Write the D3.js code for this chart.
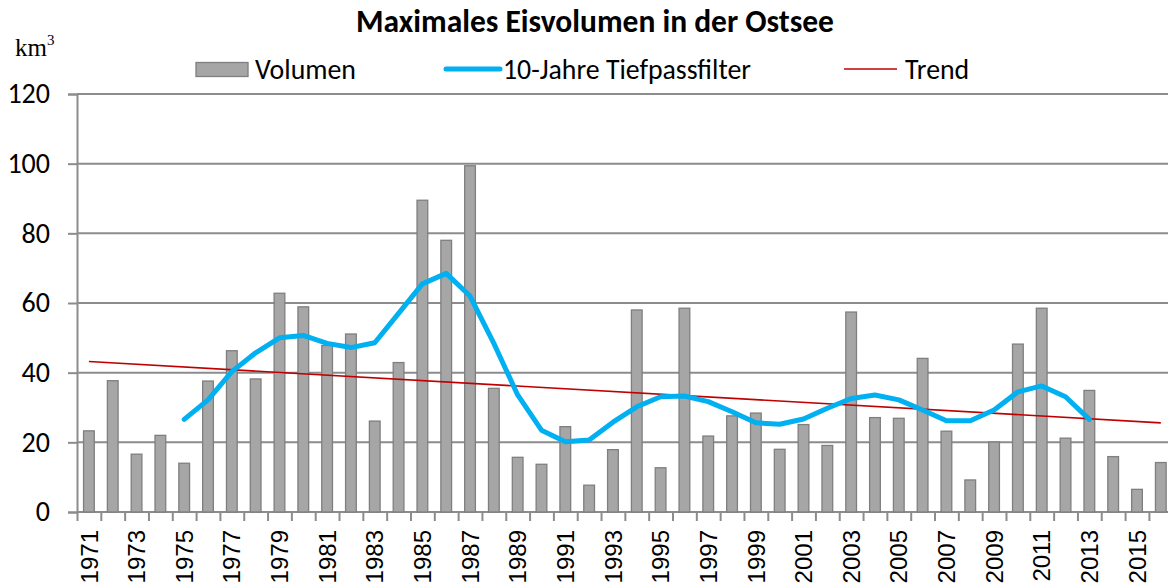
<!DOCTYPE html>
<html>
<head>
<meta charset="utf-8">
<script src="https://cdn.jsdelivr.net/npm/d3@7"></script>
<style>
  body { margin: 0; background: #fff; overflow: hidden; }
  svg { display: block; }
</style>
</head>
<body>
<svg class="chart"></svg>
<script>
// data
var years = d3.range(1971, 2017).map(String)
var volumen = [23.3, 37.7, 16.6, 22.0, 14.0, 37.6, 46.3, 38.2, 62.8, 58.9, 47.8, 51.1, 26.1, 42.9, 89.5, 78.0,
    99.4, 35.5, 15.7, 13.7, 24.5, 7.7, 17.9, 58.0, 12.7, 58.5, 21.8, 27.6, 28.4, 18.0,
    25.1, 19.1, 57.4, 27.1, 26.9, 44.1, 23.2, 9.2, 20.1, 48.2, 58.5, 21.2, 34.9, 15.9, 6.5, 14.2]
// 10-Jahre Tiefpassfilter, 1975 - 2013 (null = no value)
var tiefpass = [null, null, null, null,
    26.6, 32.2, 40.3, 45.7, 50.0, 50.7, 48.4, 47.2, 48.6, 57.0, 65.5, 68.5,
    62.0, 48.4, 33.6, 23.5, 20.2, 20.7, 25.8, 30.2, 33.1, 33.3, 31.7, 28.8, 25.6, 25.2,
    26.7, 29.8, 32.6, 33.6, 32.2, 29.3, 26.2, 26.2, 29.3, 34.5, 36.2, 33.1, 26.6,
    null, null, null]
var trendYears = ["1971", "2016"]
var trendValues = [43.2, 25.6]
var yTicks = [0, 20, 40, 60, 80, 100, 120]
var xLabels = years.filter((d, i) => i % 2 === 0)

var width = 1168,
    height = 587,
    margin = {
        top: 94,
        right: 0,
        bottom: 75,
        left: 77
    }
var step = 23.82
var uiFont = "Carlito, Lato, sans-serif"

var chart = d3.select(".chart")
    .attr("width", width)
    .attr("height", height)

var xScale = d3.scaleBand()
    .domain(years)
    .range([margin.left, margin.left + years.length * step])
    .paddingInner(0.55)
    .paddingOuter(0.275)
var xEdge = d3.scaleLinear()
    .domain([0, years.length])
    .range(xScale.range())
var yScale = d3.scaleLinear()
    .domain([0, 120])
    .range([height - margin.bottom, margin.top])

var xc = d => xScale(d) + xScale.bandwidth() / 2

// gridlines
chart.append("g")
    .attr("class", "grid")
    .selectAll("line")
    .data(yTicks)
    .join("line")
    .attr("x1", margin.left)
    .attr("x2", width)
    .attr("y1", d => yScale(d))
    .attr("y2", d => yScale(d))
    .attr("stroke", "#8c8c8c")
    .attr("stroke-width", 2)

// y axis
chart.append("g")
    .attr("class", "y axis")
    .attr("transform", `translate(${margin.left},0)`)
    .call(d3.axisLeft(yScale).tickValues(yTicks).tickSize(9).tickPadding(18))
    .call(g => g.select(".domain").attr("stroke", "#8c8c8c").attr("stroke-width", 2))
    .call(g => g.selectAll(".tick line").attr("stroke", "#8c8c8c").attr("stroke-width", 2))
    .call(g => g.selectAll(".tick text")
        .attr("font-family", uiFont)
        .attr("font-size", 28)
        .attr("fill", "#000"))

// x axis: ticks between categories
chart.append("g")
    .attr("class", "x axis")
    .attr("transform", `translate(0,${yScale(0)})`)
    .call(d3.axisBottom(xEdge).tickValues(d3.range(0, years.length + 1)).tickSize(9).tickFormat(""))
    .call(g => g.select(".domain").remove())
    .call(g => g.selectAll(".tick line").attr("stroke", "#8c8c8c").attr("stroke-width", 2))

// x labels, rotated
chart.append("g")
    .attr("class", "x labels")
    .attr("transform", `translate(0,${yScale(0)})`)
    .call(d3.axisBottom(xScale).tickValues(xLabels).tickSize(0))
    .call(g => g.select(".domain").remove())
    .call(g => g.selectAll(".tick text")
        .attr("font-family", "Liberation Sans, Arial, sans-serif")
        .attr("font-size", 24)
        .attr("fill", "#000")
        .attr("transform", "rotate(-90)")
        .attr("text-anchor", "end")
        .attr("x", -18)
        .attr("y", 0)
        .attr("dy", "0.36em"))

// bars
chart.append("g")
    .attr("class", "bars")
    .selectAll("rect")
    .data(volumen)
    .join("rect")
    .attr("x", (d, i) => xScale(years[i]))
    .attr("y", d => yScale(d))
    .attr("width", xScale.bandwidth())
    .attr("height", d => yScale(0) - yScale(d))
    .attr("fill", "#a6a6a6")
    .attr("stroke", "#7f7f7f")
    .attr("stroke-width", 1.3)

// trend
var trendLine = d3.line()
    .x((d, i) => xc(trendYears[i]))
    .y(d => yScale(d))
chart.append("path")
    .attr("class", "trend")
    .attr("fill", "none")
    .attr("stroke", "#c00000")
    .attr("stroke-width", 1.6)
    .attr("d", trendLine(trendValues))

// low pass filter
var line = d3.line()
    .defined(d => d !== null)
    .x((d, i) => xc(years[i]))
    .y(d => yScale(d))
chart.append("path")
    .attr("class", "tiefpass")
    .attr("fill", "none")
    .attr("stroke", "#00b0f0")
    .attr("stroke-width", 5)
    .attr("stroke-linejoin", "round")
    .attr("stroke-linecap", "round")
    .attr("d", line(tiefpass))

// title
chart.append("text")
    .attr("x", 595)
    .attr("y", 32)
    .attr("text-anchor", "middle")
    .attr("font-family", uiFont)
    .attr("font-weight", "bold")
    .attr("font-size", 31.5)
    .text("Maximales Eisvolumen in der Ostsee")

// unit
chart.append("text")
    .attr("x", 15)
    .attr("y", 56)
    .attr("font-family", "Liberation Serif, Times New Roman, serif")
    .attr("font-size", 25)
    .text("km")
    .append("tspan")
    .attr("dy", -11)
    .attr("font-size", 15)
    .text("3")

// legend
const legend = chart.append("g").attr("class", "legend")
    .attr("font-family", uiFont)
    .attr("font-size", 27.8)
legend.append("rect")
    .attr("x", 196).attr("y", 62.5)
    .attr("width", 52).attr("height", 14)
    .attr("fill", "#a6a6a6").attr("stroke", "#7f7f7f").attr("stroke-width", 1.3)
legend.append("text").attr("x", 255).attr("y", 79).text("Volumen")
legend.append("line")
    .attr("x1", 446).attr("x2", 500).attr("y1", 69).attr("y2", 69)
    .attr("stroke", "#00b0f0").attr("stroke-width", 5).attr("stroke-linecap", "round")
legend.append("text").attr("x", 503).attr("y", 79).text("10-Jahre Tiefpassfilter")
legend.append("line")
    .attr("x1", 844).attr("x2", 897).attr("y1", 69).attr("y2", 69)
    .attr("stroke", "#c00000").attr("stroke-width", 1.6)
legend.append("text").attr("x", 905).attr("y", 79).text("Trend")
</script>
</body>
</html>
